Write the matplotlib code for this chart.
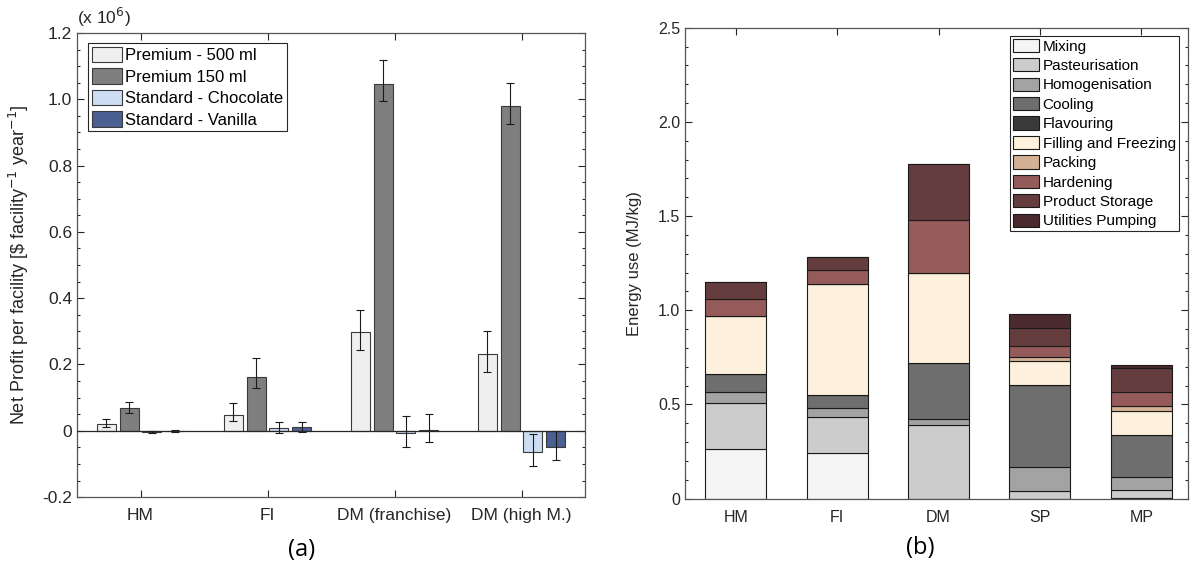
import numpy as np
import matplotlib.pyplot as plt
from matplotlib.ticker import MultipleLocator

plt.rcParams['font.family'] = ['Liberation Sans', 'DejaVu Sans']

# (a) net profit per facility, x 10^6 $
sites = ['HM', 'FI', 'DM (franchise)', 'DM (high M.)']
products = ['Premium - 500 ml', 'Premium 150 ml', 'Standard - Chocolate', 'Standard - Vanilla']
prem_500 = [0.020, 0.049, 0.298, 0.232]
prem_150 = [0.068, 0.162, 1.047, 0.980]
std_choc = [-0.003, 0.008, -0.008, -0.065]
std_van = [-0.002, 0.010, 0.002, -0.050]
# error bar ends (low, high)
prem_500_lo = [0.010, 0.030, 0.245, 0.178]
prem_500_hi = [0.035, 0.083, 0.365, 0.300]
prem_150_lo = [0.055, 0.130, 0.995, 0.925]
prem_150_hi = [0.088, 0.220, 1.120, 1.050]
std_choc_lo = [-0.006, -0.008, -0.048, -0.105]
std_choc_hi = [0.000, 0.028, 0.045, -0.010]
std_van_lo = [-0.004, -0.005, -0.033, -0.088]
std_van_hi = [0.001, 0.028, 0.050, 0.000]

# (b) energy use by process step, MJ/kg
plants = ['HM', 'FI', 'DM', 'SP', 'MP']
steps = ['Mixing', 'Pasteurisation', 'Homogenisation', 'Cooling', 'Flavouring',
         'Filling and Freezing', 'Packing', 'Hardening', 'Product Storage', 'Utilities Pumping']
mixing = [0.265, 0.242, 0.0, 0.0, 0.005]
pasteurisation = [0.240, 0.192, 0.390, 0.040, 0.040]
homogenisation = [0.060, 0.047, 0.030, 0.130, 0.070]
cooling = [0.095, 0.068, 0.300, 0.432, 0.220]
flavouring = [0.0, 0.0, 0.0, 0.0, 0.0]
filling = [0.310, 0.589, 0.476, 0.128, 0.130]
packing = [0.0, 0.0, 0.0, 0.023, 0.025]
hardening = [0.092, 0.074, 0.282, 0.058, 0.075]
storage = [0.088, 0.071, 0.299, 0.092, 0.130]
utilities = [0.0, 0.0, 0.0, 0.076, 0.016]

fig = plt.figure(figsize=(11.92, 5.74), dpi=100)
txt = '#262626'

# ---------- panel (a)
ax1 = fig.add_axes([0.0646, 0.134, 0.4262, 0.8085])
x = np.arange(1, len(sites) + 1)
series = [(prem_500, prem_500_lo, prem_500_hi, '#EFEFEF'),
          (prem_150, prem_150_lo, prem_150_hi, '#7F7F7F'),
          (std_choc, std_choc_lo, std_choc_hi, '#CCDDF4'),
          (std_van, std_van_lo, std_van_hi, '#4A5F92')]
offsets = [-0.27, -0.09, 0.09, 0.27]
for i, (vals, lo, hi, col) in enumerate(series):
    vals = np.array(vals)
    ax1.bar(x + offsets[i], vals, width=0.15, color=col, edgecolor='#3a3a3a',
            linewidth=0.8, label=products[i], zorder=2)
    yerr = [vals - np.array(lo), np.array(hi) - vals]
    ax1.errorbar(x + offsets[i], vals, yerr=yerr, fmt='none', ecolor='#1a1a1a',
                 elinewidth=0.8, capsize=3, capthick=0.8, zorder=3)
ax1.axhline(0, color='#262626', lw=0.9, zorder=4)
ax1.set_xlim(0.5, 4.5)
ax1.set_ylim(-0.2, 1.2)
ax1.set_xticks(x)
ax1.set_xticklabels(sites)
ax1.yaxis.set_minor_locator(MultipleLocator(0.05))
ax1.set_yticks(np.arange(-0.2, 1.21, 0.2))
ax1.set_yticklabels(['-0.2', '0', '0.2', '0.4', '0.6', '0.8', '1.0', '1.2'])
ax1.set_ylabel(r'Net Profit per facility [\$ facility$^{-1}$ year$^{-1}$]',
               fontsize=13, color=txt)
ax1.yaxis.set_label_coords(-0.09, 0.5)
ax1.text(0.0, 1.008, '(x 10$^6$)', transform=ax1.transAxes, fontsize=12.5,
         color=txt, ha='left', va='bottom')
leg1 = ax1.legend(loc='upper left', bbox_to_anchor=(0.022, 0.978), fontsize=12,
                  frameon=True, fancybox=False, edgecolor='#262626', framealpha=1,
                  handlelength=1.8, handleheight=1.05, handletextpad=0.2,
                  labelspacing=0.3, borderpad=0.22, borderaxespad=0)
leg1.get_frame().set_linewidth(0.8)

# ---------- panel (b)
ax2 = fig.add_axes([0.5747, 0.1315, 0.4219, 0.8202])
step_vals = [mixing, pasteurisation, homogenisation, cooling, flavouring,
             filling, packing, hardening, storage, utilities]
step_cols = ['#F5F5F5', '#CCCCCC', '#A3A3A3', '#6E6E6E', '#3A3A3A',
             '#FDF0DC', '#D4B195', '#955B5B', '#653D3F', '#4A2A2C']
xb = np.arange(1, len(plants) + 1)
bottom = np.zeros(len(plants))
for name, vals, col in zip(steps, step_vals, step_cols):
    ax2.bar(xb, vals, bottom=bottom, width=0.6, color=col, edgecolor='#1a1a1a',
            linewidth=0.8, label=name, zorder=2)
    bottom += np.array(vals)
ax2.set_xlim(0.5, 5.46)
ax2.set_ylim(0, 2.5)
ax2.set_xticks(xb)
ax2.set_xticklabels(plants)
ax2.yaxis.set_minor_locator(MultipleLocator(0.1))
ax2.set_yticks([0, 0.5, 1.0, 1.5, 2.0, 2.5])
ax2.set_yticklabels(['0', '0.5', '1.0', '1.5', '2.0', '2.5'])
ax2.set_ylabel('Energy use (MJ/kg)', fontsize=12, color=txt)
ax2.yaxis.set_label_coords(-0.085, 0.5)
leg2 = ax2.legend(loc='upper right', bbox_to_anchor=(0.982, 0.983), fontsize=11,
                  frameon=True, fancybox=False, edgecolor='#262626', framealpha=1,
                  handlelength=1.7, handleheight=0.95, handletextpad=0.25,
                  labelspacing=0.3, borderpad=0.2, borderaxespad=0)
leg2.get_frame().set_linewidth(0.8)

for ax, lsize in ((ax1, 12.5), (ax2, 11.5)):
    ax.tick_params(axis='both', which='both', direction='in', top=True, right=True,
                   colors=txt, labelsize=lsize, width=0.8)
    ax.tick_params(axis='both', which='major', length=5)
    ax.tick_params(axis='both', which='minor', length=2.5)
    ax.tick_params(axis='x', which='minor', bottom=False, top=False)
    ax.tick_params(axis='x', pad=8)
    for s in ax.spines.values():
        s.set_color('#555555')
        s.set_linewidth(0.9)

fig.text(0.253, 0.042, '(a)', fontsize=17, family='Open Sans', ha='center', va='center')
fig.text(0.772, 0.045, '(b)', fontsize=17, family='Open Sans', ha='center', va='center')

fig.savefig('out.png', dpi=100)
